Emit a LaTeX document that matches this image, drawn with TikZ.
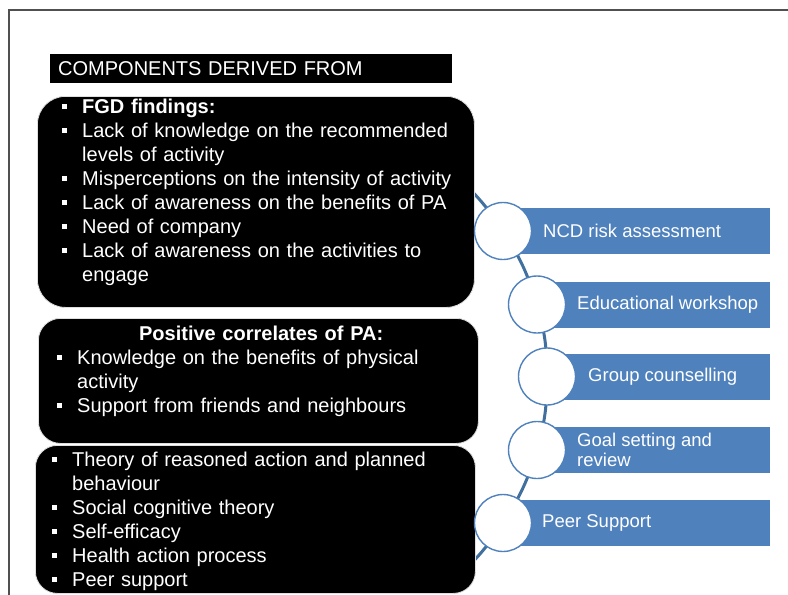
\documentclass[tikz,border=0pt]{standalone}
\usepackage{fontspec}
\setmainfont{Liberation Sans}
\usetikzlibrary{positioning, backgrounds}

\definecolor{barblue}{HTML}{4F81BD}
\definecolor{spineblue}{HTML}{41709F}
\definecolor{framegray}{HTML}{505050}

\newlength{\bulw}
\setlength{\bulw}{20pt}
% square bullet with hanging indent
\newcommand{\bul}{\hangindent=\bulw\hangafter=1\makebox[\bulw][l]{\raisebox{4.5pt}{\rule{5pt}{5pt}}}}

\begin{document}
\begin{tikzpicture}[
  x=1pt, y=-1pt,
  header/.style = {fill=black, text=white, font=\fontsize{20}{24}\selectfont, minimum width=402pt,
    minimum height=29pt, text width=386pt, inner xsep=8pt, inner ysep=0pt, align=left, anchor=north west},
  blackbox/.style = {fill=black, draw=gray!25, line width=0.8pt, inner sep=0pt, anchor=north west},
  boxtext/.style = {text=white, font=\fontsize{20}{24}\selectfont, text width=#1, align=left,
    inner sep=0pt, anchor=base west},
  bar/.style = {fill=barblue, minimum height=46pt, inner sep=0pt, anchor=west},
  bartext/.style = {text=white, font=\fontsize{18.5}{19.5}\selectfont, align=left, inner sep=0pt},
  dot/.style = {circle, draw=barblue, fill=white, line width=1.4pt, minimum size=57pt, inner sep=0pt},
  spine/.style = {spineblue, line width=3pt}
]
\useasboundingbox (0,0) rectangle (788,595);

% frame
\draw[framegray, line width=1.4pt] (9,595) -- (9,10) -- (788,10);

% heading
\node[header] (head) at (50,54) {COMPONENTS DERIVED FROM};

% black boxes
\node[blackbox, rounded corners=28pt, minimum width=437pt, minimum height=211pt] (box1) at (37,96) {};
\node[blackbox, rounded corners=22pt, minimum width=440pt, minimum height=125pt] (box2) at (38,318) {};
\node[blackbox, rounded corners=22pt, minimum width=440pt, minimum height=148pt] (box3) at (35,445) {};

\node[boxtext=405pt] (fgd) at (62,113.5) {%
  \bul\textbf{FGD findings:}\par
  \bul Lack of knowledge on the recommended\newline levels of activity\par
  \bul Misperceptions on the intensity of activity\par
  \bul Lack of awareness on the benefits of PA\par
  \bul Need of company\par
  \bul Lack of awareness on the activities to\newline engage\par};

\node[boxtext=408pt] (corr) at (57,340) {%
  \makebox[\linewidth][c]{\textbf{Positive correlates of PA:}}\par
  \bul Knowledge on the benefits of physical\newline activity\par
  \bul Support from friends and neighbours\par};

\node[boxtext=415pt] (theory) at (52,466) {%
  \bul Theory of reasoned action and planned\newline behaviour\par
  \bul Social cognitive theory\par
  \bul Self-efficacy\par
  \bul Health action process\par
  \bul Peer support\par};

% blue bars
\node[bar, minimum width=267pt] (bar1) at (503,231) {};
\node[bar, minimum width=233pt] (bar2) at (537,304.5) {};
\node[bar, minimum width=223pt] (bar3) at (547,376.5) {};
\node[bar, minimum width=233pt] (bar4) at (537,450) {};
\node[bar, minimum width=267pt] (bar5) at (503,523) {};

\node[bartext, right=40pt of bar1.west] (lbl1) {NCD risk assessment};
\node[bartext, right=40pt of bar2.west] (lbl2) {Educational workshop};
\node[bartext, right=41pt of bar3.west] (lbl3) {Group counselling};
\node[bartext, right=40pt of bar4.west] (lbl4) {Goal setting and\\review};
\node[bartext, right=39pt of bar5.west] (lbl5) {Peer Support};

% circles
\node[dot] (c1) at (bar1.west) {};
\node[dot] (c2) at (bar2.west) {};
\node[dot] (c3) at (bar3.west) {};
\node[dot] (c4) at (bar4.west) {};
\node[dot] (c5) at (bar5.west) {};

% curved spine behind everything
\coordinate (sptop) at (451,172);
\coordinate (spbot) at (451,582);
\begin{scope}[on background layer]
  \draw[spine] (sptop) to[bend left=8] (c1.center) to[bend left=8] (c2.center)
    to[bend left=8] (c3.center) to[bend left=8] (c4.center)
    to[bend left=8] (c5.center) to[bend left=8] (spbot);
\end{scope}

\end{tikzpicture}
\end{document}
